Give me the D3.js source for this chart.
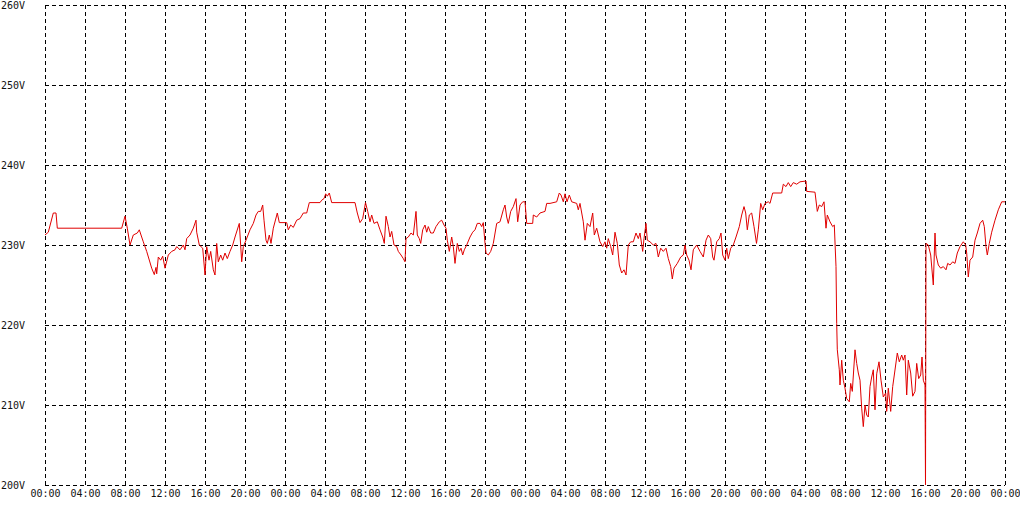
<!DOCTYPE html>
<html>
<head>
<meta charset="utf-8">
<script src="https://cdn.jsdelivr.net/npm/d3@7"></script>
<style>
  html, body { margin: 0; padding: 0; background: #fff; }
  svg { display: block; }
  text { font-family: "DejaVu Sans Mono", monospace; font-size: 10px; fill: #111; }
</style>
</head>
<body>
<svg id="chart" width="1020" height="520"></svg>
<script>
// Time in hours since first 00:00
const hours = [0,0.33,0.83,1.1,1.23,7.67,8.0,8.23,8.5,8.83,9.23,9.43,9.6,9.83,10.17,10.67,10.93,11.1,11.17,11.33,11.57,11.77,12.0,12.33,12.67,13.0,13.17,13.5,13.83,14.0,14.17,14.5,14.83,15.1,15.17,15.43,15.77,16.0,16.17,16.4,16.57,16.83,17.0,17.17,17.33,17.57,17.77,18.0,18.23,18.5,18.77,19.0,19.43,19.67,19.83,20.1,20.5,20.83,21.1,21.33,21.57,21.77,21.9,22.1,22.23,22.43,22.6,22.83,23.23,23.43,24.17,24.33,24.57,24.83,25.17,25.5,25.83,26.17,26.43,27.5,27.67,27.9,28.07,28.23,28.43,28.67,31.0,31.23,31.5,31.77,32.05,32.27,32.5,32.67,32.9,33.23,33.5,33.77,33.93,34.1,34.33,34.5,34.67,34.9,35.17,35.33,35.6,35.83,36.0,36.1,36.33,36.6,36.83,37.1,37.23,37.43,37.57,37.77,38.0,38.17,38.33,38.57,38.83,39.1,39.43,39.67,39.9,40.1,40.23,40.43,40.67,40.83,41.0,41.23,41.43,41.6,41.77,41.93,42.17,42.5,42.77,43.0,43.23,43.5,43.67,43.83,44.0,44.1,44.33,44.57,44.83,45.17,45.5,45.83,46.0,46.17,46.33,46.57,46.83,47.1,47.27,47.5,47.77,48.0,48.17,48.77,48.83,49.17,49.5,50.0,50.17,50.5,51.17,51.43,51.6,51.83,52.0,52.2,52.43,52.67,53.17,53.33,53.5,53.83,54.0,54.23,54.5,54.77,54.93,55.17,55.5,55.77,56.0,56.17,56.33,56.57,56.77,57.0,57.23,57.43,57.67,57.9,58.1,58.33,58.57,58.83,59.1,59.33,59.5,59.77,59.9,60.1,60.23,60.5,60.83,61.1,61.33,61.57,61.83,62.1,62.33,62.57,62.73,62.9,63.23,63.57,63.83,64.0,64.17,64.4,64.6,64.83,65.17,65.5,65.83,66.1,66.33,66.57,66.77,66.9,67.17,67.43,67.6,67.77,68.0,68.17,68.33,68.57,68.83,69.1,69.43,69.67,69.9,70.07,70.23,70.43,70.67,70.9,71.15,71.33,71.57,71.77,72.0,72.33,72.5,72.77,73.67,73.83,74.1,74.33,74.57,74.83,75.17,75.5,76.1,76.17,77.0,77.23,77.43,77.67,77.9,78.1,78.23,78.5,78.77,78.93,79.1,79.17,79.23,79.43,79.5,79.67,79.83,80.0,80.17,80.43,80.57,80.73,81.0,81.17,81.33,81.5,81.67,81.83,82.0,82.17,82.33,82.5,82.67,82.83,83.0,83.17,83.4,83.6,83.83,84.07,84.17,84.33,84.57,84.77,84.93,85.23,85.43,85.67,85.83,86.0,86.17,86.33,86.57,86.77,87.0,87.17,87.37,87.57,87.7,87.83,88.0,88.05,88.1,88.33,88.57,88.83,89.0,89.1,89.33,89.57,89.83,90.1,90.27,90.5,90.77,91.0,91.23,91.5,91.83,92.07,92.17,92.33,92.5,92.77,93.0,93.23,93.5,93.77,93.93,94.1,94.23,94.43,94.67,95.0,95.33,95.67,96.0];
// Voltage readings (V)
const volts = [231.25,231.6,234.0,234.0,232.1,232.1,233.6,232.1,230.0,231.25,231.5,231.9,231.25,230.4,229.2,227.1,226.3,227.2,226.4,228.5,228.1,228.6,227.1,228.75,229.2,229.4,229.8,229.4,230.0,229.4,230.8,231.25,232.1,233.1,231.6,230.0,229.6,226.25,229.8,228.1,229.2,226.9,226.25,230.2,227.9,228.75,228.1,229.0,228.3,229.2,230.0,231.0,232.7,227.9,229.8,230.6,231.9,232.7,233.75,234.2,234.2,235.0,233.1,230.6,230.2,231.25,230.2,232.1,234.0,232.8,232.8,231.9,232.5,232.2,233.1,233.3,234.0,234.0,235.3,235.3,235.6,235.8,236.4,236.1,236.5,235.3,235.3,234.0,232.8,233.3,235.3,234.2,232.9,233.75,232.7,232.9,231.9,231.0,230.2,233.6,232.3,231.0,231.7,230.0,229.8,229.2,228.75,228.3,227.9,230.8,231.0,231.5,231.25,234.2,231.25,230.8,230.2,231.9,232.5,231.6,232.3,231.5,231.5,232.3,232.9,233.1,232.5,232.1,230.6,229.2,231.0,229.8,227.7,230.2,229.2,229.6,228.75,229.4,230.0,231.0,231.6,231.9,232.7,232.7,232.3,232.8,230.2,229.0,228.75,229.2,230.2,232.7,232.9,234.4,235.0,233.5,232.7,234.2,234.8,235.8,232.9,235.0,235.4,235.4,232.7,232.7,233.75,233.5,234.0,234.2,235.2,235.2,235.4,236.5,236.25,235.4,236.4,235.4,236.25,235.4,235.2,234.4,235.2,232.9,230.6,232.7,232.3,234.0,231.25,232.1,230.4,229.8,230.4,229.6,230.8,229.8,228.75,231.6,230.2,227.5,226.5,226.9,226.25,230.0,230.4,230.4,231.5,230.8,231.5,229.2,230.8,232.7,230.6,230.4,230.0,230.2,228.5,229.6,229.2,229.6,228.3,227.3,225.75,227.1,227.7,228.5,228.75,230.0,228.75,228.1,226.9,229.4,230.0,229.2,228.5,230.6,231.25,230.8,228.5,228.1,230.4,230.8,231.5,228.75,228.1,229.6,228.3,229.6,230.0,231.0,232.3,233.75,234.8,234.0,231.9,233.75,234.0,232.3,230.2,231.9,235.2,234.4,235.2,235.4,235.2,236.5,236.5,237.6,237.3,237.8,237.3,237.8,237.6,237.9,238.0,236.7,236.6,234.2,235.0,234.8,235.4,232.1,233.75,232.9,232.3,232.5,227.3,220.2,216.9,214.4,212.5,215.6,213.1,212.1,210.8,210.4,212.7,211.7,216.9,215.2,214.0,213.1,209.6,207.3,210.0,208.75,208.5,212.3,213.5,214.4,209.4,213.9,215.4,213.1,211.0,211.5,209.2,212.1,209.2,212.3,213.75,216.5,215.4,216.25,215.6,216.25,211.25,215.6,214.0,211.1,211.7,215.2,213.3,213.75,216.0,213.1,212.5,200.0,230.2,230.0,228.75,225.0,231.5,228.75,227.5,227.1,227.3,226.9,227.7,227.5,227.9,227.7,229.0,229.8,230.4,230.0,229.0,226.0,228.1,228.5,230.6,231.5,232.7,233.1,232.3,229.8,228.75,230.2,231.6,233.1,234.4,235.4,235.4];
const tickHours = [0,4,8,12,16,20,24,28,32,36,40,44,48,52,56,60,64,68,72,76,80,84,88,92,96];
const tickLabels = ["00:00","04:00","08:00","12:00","16:00","20:00","00:00","04:00","08:00","12:00","16:00","20:00","00:00","04:00","08:00","12:00","16:00","20:00","00:00","04:00","08:00","12:00","16:00","20:00","00:00"];
const voltTicks = [200,210,220,230,240,250,260];
const voltLabels = ["200V","210V","220V","230V","240V","250V","260V"];

const svg = d3.select("#chart");
const x = d3.scaleLinear().domain([0, 96]).range([45, 1005]);
const y = d3.scaleLinear().domain([200, 260]).range([485, 5]);

// Horizontal grid + y labels
const gy = svg.append("g").attr("transform", "translate(45,0)")
  .call(d3.axisLeft(y).tickValues(voltTicks).tickSize(-960)
    .tickFormat((d, i) => voltLabels[i]));
gy.select(".domain").remove();
gy.selectAll(".tick line").attr("stroke", "#000").attr("stroke-dasharray", "4,3")
  .attr("shape-rendering", "crispEdges");
gy.selectAll(".tick text").attr("x", -44).attr("text-anchor", "start")
  .attr("fill", "#111").style("font-family", "DejaVu Sans Mono, monospace").style("font-size", "10px");

// Vertical grid + x labels
const gx = svg.append("g").attr("transform", "translate(0,485)")
  .call(d3.axisBottom(x).tickValues(tickHours).tickSize(-480).tickPadding(5)
    .tickFormat((d, i) => tickLabels[i]));
gx.select(".domain").remove();
gx.selectAll(".tick line").attr("stroke", "#000").attr("stroke-dasharray", "4,3")
  .attr("shape-rendering", "crispEdges");
gx.selectAll(".tick text").attr("fill", "#111")
  .style("font-family", "DejaVu Sans Mono, monospace").style("font-size", "10px");

// Data line
const data = hours.map((h, i) => [h, volts[i]]);
svg.append("path")
  .datum(data)
  .attr("fill", "none")
  .attr("stroke", "#e00000")
  .attr("stroke-width", 1)
  .attr("d", d3.line().x(d => x(d[0])).y(d => y(d[1])));
</script>
</body>
</html>
